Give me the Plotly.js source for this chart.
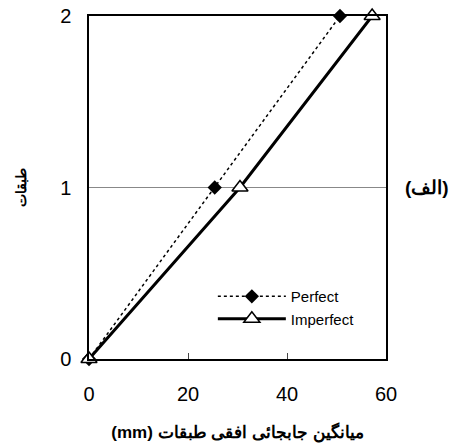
<!DOCTYPE html>
<html><head><meta charset="utf-8">
<script src="https://cdn.plot.ly/plotly-3.0.1.min.js"></script>
<style>body{margin:0;background:#fff}#c{width:458px;height:444px}</style>
</head><body><div id="c"></div>
<script>
const perfectX = [0, 25.4, 50.7];
const perfectY = [0, 1, 2];
const imperfectX = [0, 30.5, 57.2];
const imperfectY = [0, 1, 2];
const xTicks = [0, 20, 40, 60];
const yTicks = [0, 1, 2];

const traces = [
  {x: perfectX, y: perfectY, name: 'Perfect', mode: 'lines+markers', cliponaxis: false,
   line: {color: '#000', width: 1.5, dash: 'dot'},
   marker: {symbol: 'diamond', size: 11, color: '#000'}},
  {x: imperfectX, y: imperfectY, name: 'Imperfect', mode: 'lines+markers', cliponaxis: false,
   line: {color: '#000', width: 3},
   marker: {symbol: 'triangle-up', size: 14, color: '#fff', line: {color: '#000', width: 1.5}}}
];
const layout = {
  width: 458, height: 444,
  margin: {l: 89, r: 72, t: 16, b: 85},
  paper_bgcolor: '#fff', plot_bgcolor: '#fff',
  font: {family: 'Liberation Sans, Arial, sans-serif', color: '#000'},
  showlegend: true,
  legend: {x: 0.417, y: 0.15, xanchor: 'left', yanchor: 'middle', bgcolor: 'rgba(0,0,0,0)',
           font: {size: 15}, itemwidth: 68, tracegroupgap: 0},
  xaxis: {range: [0, 60], tickvals: xTicks, ticks: 'inside', ticklen: 6, tickcolor: '#444',
          showgrid: false, zeroline: false, showline: true, mirror: true, linecolor: '#000', linewidth: 1.5,
          tickfont: {size: 20}, ticklabelstandoff: 16,
          title: {text: '<b>(mm) میانگین جابجائی افقی طبقات</b>', font: {size: 17}, standoff: 22}},
  yaxis: {range: [0, 2], tickvals: yTicks, ticks: '', showgrid: true, gridcolor: '#888', gridwidth: 1,
          zeroline: false, showline: true, mirror: true, linecolor: '#000', linewidth: 1.5,
          tickfont: {size: 20}, ticklabelstandoff: 12,
          title: {text: '<b>طبقات</b>', font: {size: 14}, standoff: 30}},
  annotations: [{text: '<b>(الف)</b>', xref: 'paper', yref: 'paper', x: 1.22, y: 0.5,
                 showarrow: false, font: {size: 19}}]
};
Plotly.newPlot('c', traces, layout, {displayModeBar: false});
</script></body></html>
